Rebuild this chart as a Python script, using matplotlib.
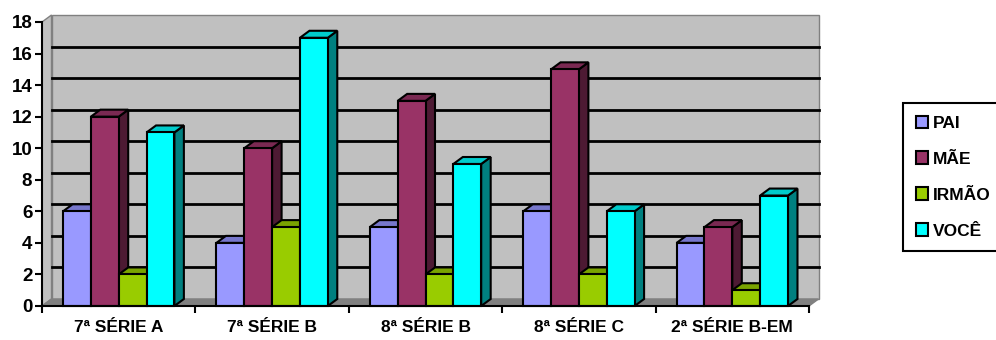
import matplotlib.pyplot as plt
from matplotlib.patches import Polygon, Patch

plt.rcParams['font.family'] = ['Liberation Sans', 'DejaVu Sans']
plt.rcParams['font.weight'] = 'bold'

categories = ['7ª SÉRIE A', '7ª SÉRIE B', '8ª SÉRIE B', '8ª SÉRIE C', '2ª SÉRIE B-EM']
series_names = ['PAI', 'MÃE', 'IRMÃO', 'VOCÊ']
pai = [6, 4, 5, 6, 4]
mae = [12, 10, 13, 15, 5]
irmao = [2, 5, 2, 2, 1]
voce = [11, 17, 9, 6, 7]
series = [pai, mae, irmao, voce]

front_colors = ['#9999ff', '#993366', '#99cc00', '#00ffff']
top_colors = ['#7777cc', '#7a2952', '#7aa300', '#00cccc']
side_colors = ['#5c5c99', '#4d1a33', '#4d6600', '#008080']

W, H = 996, 340
fig = plt.figure(figsize=(W / 100, H / 100), dpi=100)
ax = fig.add_axes([42 / W, 34 / H, 767 / W, 284 / H])
n = len(categories)
ymax = 18
ax.set_xlim(0, n)
ax.set_ylim(0, ymax)
ax.patch.set_visible(False)

# depth of the 3D box (pixels converted to data units)
dx = 9.5 * n / 767
dy = 7 * ymax / 284

# walls and floor
wall = dict(facecolor='#c0c0c0', edgecolor='#808080', lw=1, clip_on=False, zorder=0)
ax.add_patch(Polygon([(dx, dy), (n + dx, dy), (n + dx, ymax + dy), (dx, ymax + dy)], **wall))
ax.add_patch(Polygon([(0, 0), (dx, dy), (dx, ymax + dy), (0, ymax)], **wall))
ax.add_patch(Polygon([(0, 0), (n, 0), (n + dx, dy), (dx, dy)], facecolor='#808080',
                     edgecolor='#808080', lw=1, clip_on=False, zorder=1))
for v in range(2, ymax, 2):
    ax.plot([dx, n + dx], [v + dy, v + dy], color='black', lw=2, clip_on=False, zorder=1)

# 3D columns, drawn left to right so each one hides the side of the previous
gap = 0.137
bw = (1 - 2 * gap) / len(series)
edge = dict(edgecolor='black', lw=1.5, joinstyle='miter', clip_on=False)
z = 3
for i in range(n):
    for j, vals in enumerate(series):
        h = vals[i]
        x0 = i + gap + j * bw
        x1 = x0 + bw
        ax.add_patch(Polygon([(x1, 0), (x1 + dx, dy), (x1 + dx, h + dy), (x1, h)],
                             facecolor=side_colors[j], zorder=z, **edge))
        ax.add_patch(Polygon([(x0, h), (x1, h), (x1 + dx, h + dy), (x0 + dx, h + dy)],
                             facecolor=top_colors[j], zorder=z, **edge))
        ax.add_patch(Polygon([(x0, 0), (x1, 0), (x1, h), (x0, h)],
                             facecolor=front_colors[j], zorder=z, **edge))
        z += 1

for s in ['top', 'right']:
    ax.spines[s].set_visible(False)
for s in ['left', 'bottom']:
    ax.spines[s].set_linewidth(1.5)
    ax.spines[s].set_zorder(50)

ax.set_yticks(range(0, ymax + 1, 2))
ax.set_xticks(range(n + 1))
ax.set_xticklabels([])
ax.set_xticks([i + 0.5 for i in range(n)], minor=True)
ax.set_xticklabels(categories, minor=True, fontweight='bold', fontsize=12.5)
ax.tick_params(axis='both', which='major', direction='out', length=5, width=1.5)
ax.tick_params(axis='x', which='minor', length=0, pad=10)
ax.tick_params(axis='y', pad=2, labelsize=13.5)
for t in ax.get_yticklabels():
    t.set_fontweight('bold')

handles = [Patch(facecolor=c, edgecolor='black', lw=1.5) for c in front_colors]
leg = fig.legend(handles, series_names, loc='upper left',
                 bbox_to_anchor=(903 / W, 1 - 103 / H), frameon=True, fancybox=False,
                 edgecolor='black', framealpha=1, prop=dict(weight='bold', size=12.5),
                 handlelength=0.7, handleheight=0.7, handletextpad=0.3,
                 labelspacing=1.2, borderpad=0.72, borderaxespad=0)
leg.get_frame().set_linewidth(1.5)

fig.savefig('out.png', dpi=100)
